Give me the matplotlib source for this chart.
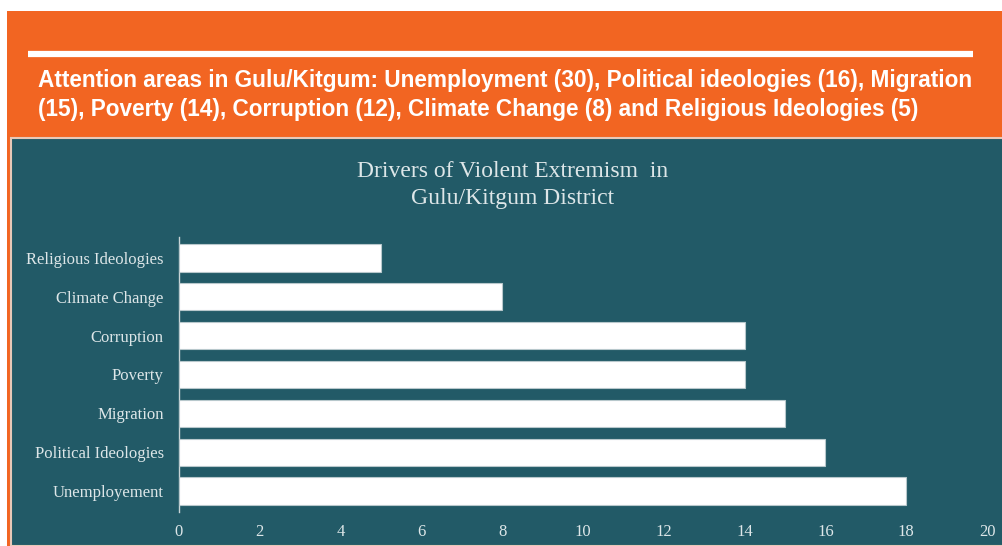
import matplotlib.pyplot as plt
from matplotlib.patches import Rectangle

categories = ["Unemployement", "Political Ideologies", "Migration", "Poverty",
              "Corruption", "Climate Change", "Religious Ideologies"]
values = [18, 16, 15, 14, 14, 8, 5]
xticks = [0, 2, 4, 6, 8, 10, 12, 14, 16, 18, 20]

header = ("Attention areas in Gulu/Kitgum: Unemployment (30), Political ideologies (16), Migration\n"
          "(15), Poverty (14), Corruption (12), Climate Change (8) and Religious Ideologies (5)")
title = "Drivers of Violent Extremism  in\nGulu/Kitgum District"

orange = "#F26522"
teal = "#225A67"
light = "#DDE6E8"

W, H = 1003, 546
fig = plt.figure(figsize=(W / 100, H / 100), dpi=100)
fig.patch.set_facecolor("white")

def fx(px):
    return px / W

def fy(py):
    return 1 - py / H

# orange banner and teal panel
fig.patches.append(Rectangle((fx(7), 0), fx(W - 7), fy(11), transform=fig.transFigure,
                             facecolor=orange, edgecolor="none", zorder=0))
fig.patches.append(Rectangle((fx(11.5), 0), fx(W - 11), fy(137.5), transform=fig.transFigure,
                             facecolor=teal, edgecolor="#E8C8B8", linewidth=1.5, zorder=1))
fig.add_artist(plt.Line2D([fx(28), fx(973)], [fy(54), fy(54)], transform=fig.transFigure,
                          color="white", linewidth=4.5, solid_capstyle="butt"))

fig.text(fx(38), fy(95), header, ha="left", va="center", color="white",
         fontsize=16.3, fontweight="bold", family="Liberation Sans", linespacing=1.3)

fig.text(fx(513), fy(185), title, ha="center", va="center", color=light,
         fontsize=17, family="Liberation Serif", linespacing=1.35)

ax = fig.add_axes([fx(179), fy(512), fx(987 - 179), fy(237) - fy(512)])
ax.set_zorder(5)
ax.set_facecolor("none")
ax.barh(range(len(categories)), values, height=0.7, color="white",
        edgecolor="#B8C8CC", linewidth=0.8, zorder=3)
ax.set_xlim(0, 20)
ax.set_ylim(-0.54, len(categories) - 0.46)
ax.set_yticks(range(len(categories)))
ax.set_yticklabels(categories)
ax.set_xticks(xticks)
ax.set_xticklabels([str(t) for t in xticks])
for s in ["top", "right", "bottom"]:
    ax.spines[s].set_visible(False)
ax.spines["left"].set_color("#C8D4D6")
ax.spines["left"].set_linewidth(1)
ax.tick_params(axis="y", length=0, pad=11, labelsize=12, labelcolor=light)
ax.tick_params(axis="x", length=0, pad=9, labelsize=12, labelcolor=light)
for lbl in ax.get_xticklabels() + ax.get_yticklabels():
    lbl.set_family("Liberation Serif")

fig.savefig("out.png", dpi=100)
